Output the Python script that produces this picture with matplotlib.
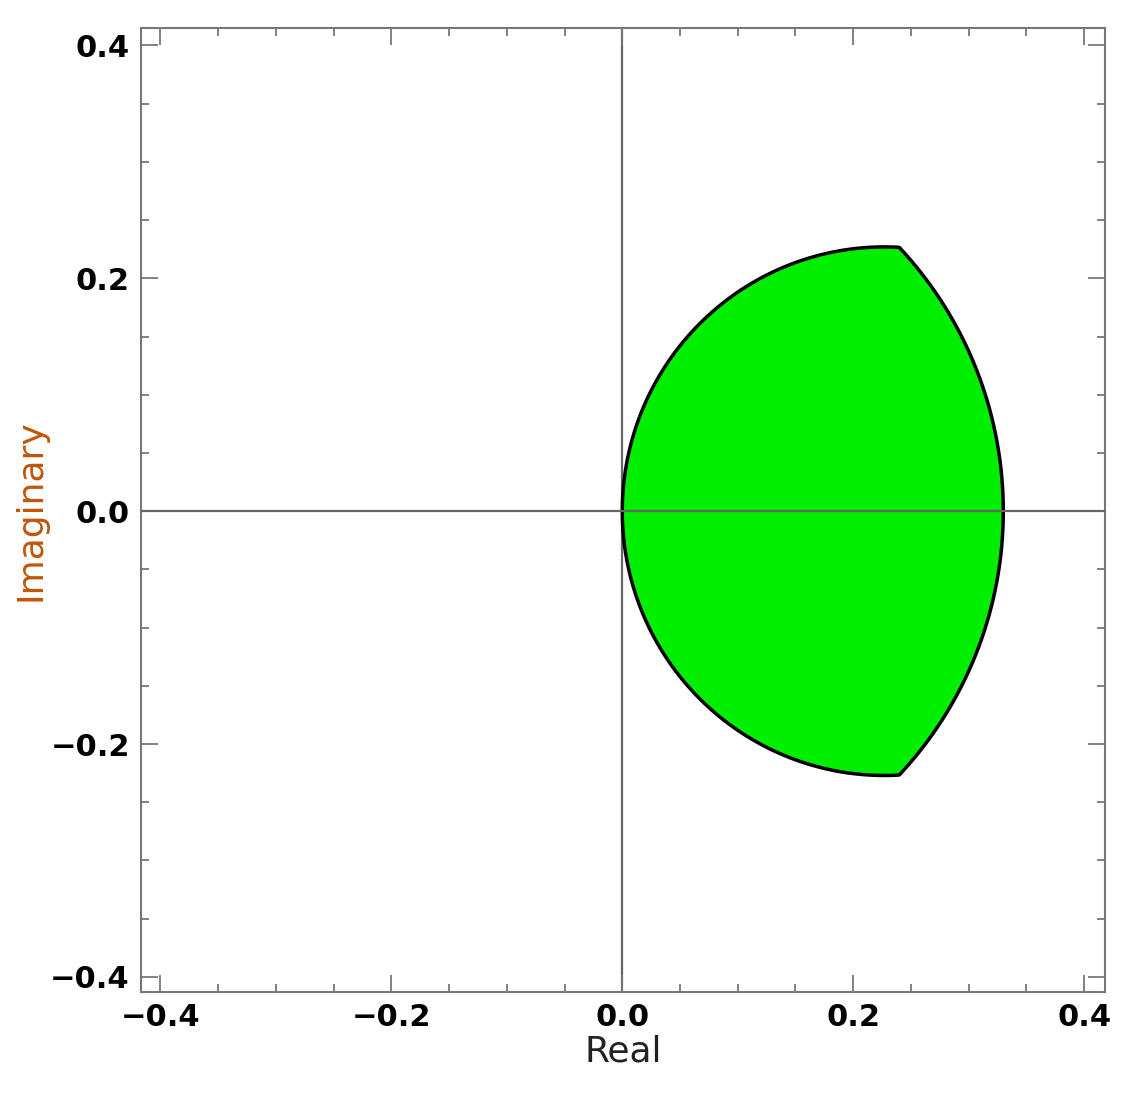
import numpy as np
import matplotlib.pyplot as plt
from matplotlib.ticker import MultipleLocator

# region boundary parameters
inner_center = 0.227   # left arc: circle centered on real axis
inner_radius = 0.227
outer_radius = 0.330   # right arc: circle centered at origin
corner_re, corner_im = 0.240, 0.227
xlim = (-0.417, 0.418)
ylim = (-0.413, 0.415)
ticks = [-0.4, -0.2, 0.0, 0.2, 0.4]

fig = plt.figure(figsize=(11.36, 11.03), dpi=100)
ax = fig.add_axes([0.124, 0.1006, 0.8486, 0.874])

a_in = np.arctan2(corner_im, corner_re - inner_center)
t1 = np.linspace(a_in, 2*np.pi - a_in, 300)
xs1 = inner_center + inner_radius*np.cos(t1)
ys1 = inner_radius*np.sin(t1)
a_out = np.arctan2(corner_im, corner_re)
t2 = np.linspace(-a_out, a_out, 200)
xs2 = outer_radius*np.cos(t2)
ys2 = outer_radius*np.sin(t2)
xs = np.concatenate([xs1, xs2]); ys = np.concatenate([ys1, ys2])
ax.fill(xs, ys, facecolor='#00ee00', edgecolor='black', linewidth=2.5, zorder=2)

ax.axhline(0, color='#666666', lw=1.6, zorder=3)
ax.axvline(0, color='#666666', lw=1.6, zorder=1)

ax.set_xlim(*xlim); ax.set_ylim(*ylim)
ax.set_xticks(ticks); ax.set_yticks(ticks)
ax.set_xticklabels(['\u22120.4', '\u22120.2', '0.0', '0.2', '0.4'])
ax.set_yticklabels(['\u22120.4', '\u22120.2', '0.0', '0.2', '0.4'])
ax.xaxis.set_minor_locator(MultipleLocator(0.05))
ax.yaxis.set_minor_locator(MultipleLocator(0.05))
ax.tick_params(which='both', direction='in', top=True, right=True, color='#777777', width=1.3)
ax.tick_params(which='major', length=12, labelsize=22, pad=8)
ax.tick_params(which='minor', length=6)
for l in ax.get_xticklabels() + ax.get_yticklabels():
    l.set_fontweight('bold')
for s in ax.spines.values():
    s.set_color('#777777'); s.set_linewidth(1.5)
ax.set_xlabel('Real', fontsize=26, color='#222222', labelpad=2)
ax.set_ylabel('Imaginary', fontsize=26, color='#c0560a', labelpad=2)
fig.savefig('out.png', dpi=100)
